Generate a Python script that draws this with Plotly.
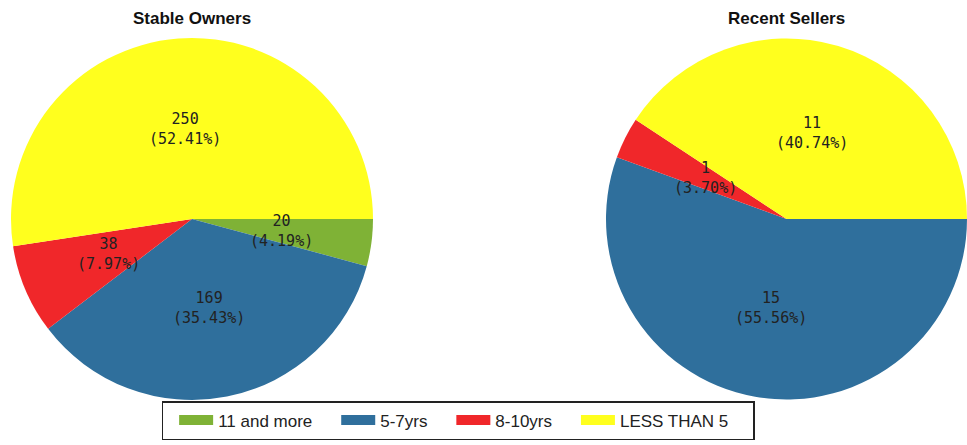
import math
import plotly.graph_objects as go

categories = ["11 and more", "5-7yrs", "8-10yrs", "LESS THAN 5"]
stable_owners = [20, 169, 38, 250]
recent_sellers = [0, 15, 1, 11]
titles = ["Stable Owners", "Recent Sellers"]
colors = ["#7fb236", "#2f6f9c", "#f0272a", "#ffff1e"]

W, H = 967, 445
domains = [
    dict(x=[11 / W, 373 / W], y=[1 - 400 / H, 1 - 38 / H]),
    dict(x=[606 / W, 1.0], y=[1 - 400 / H, 1 - 38 / H]),
]

fig = go.Figure()
annotations = []
for i, (vals, title, dom) in enumerate(zip([stable_owners, recent_sellers], titles, domains)):
    fig.add_trace(go.Pie(
        labels=categories, values=vals, domain=dom,
        marker=dict(colors=colors, line=dict(width=0)),
        sort=False, direction="clockwise", rotation=90,
        textinfo="none", hoverinfo="label+value+percent",
        showlegend=False,
    ))
    total = sum(vals)
    wpx = (dom["x"][1] - dom["x"][0]) * W
    hpx = (dom["y"][1] - dom["y"][0]) * H
    r = min(wpx, hpx) / 2
    cx = (dom["x"][0] + dom["x"][1]) / 2
    cy = (dom["y"][0] + dom["y"][1]) / 2
    cum = 0
    for v in vals:
        if v == 0:
            continue
        mid = (cum + v / 2) / total
        cum += v
        th = -mid * 2 * math.pi
        x = cx + 0.5 * r * math.cos(th) / W
        y = cy + 0.5 * r * math.sin(th) / H
        annotations.append(dict(
            x=x, y=y, xref="paper", yref="paper", showarrow=False,
            xanchor="center", yanchor="middle",
            text=f"{v}<br>({v / total * 100:.2f}%)",
            font=dict(family="DejaVu Sans Mono", size=15, color="#222"),
            align="center",
        ))
    annotations.append(dict(
        x=cx, y=1 - 18 / H, xref="paper", yref="paper", showarrow=False,
        xanchor="center", yanchor="middle",
        text=f"<b>{title}</b>",
        font=dict(family="Liberation Sans", size=17, color="#111"),
    ))

# legend entries (wide colour swatches like the original legend)
pad = "\u00a0" * 4
for j, (cat, col) in enumerate(zip(categories, colors)):
    fig.add_trace(go.Scatter(
        x=[None], y=[None], mode="lines", name=cat + pad,
        line=dict(color=col, width=11), showlegend=True, hoverinfo="skip",
    ))

fig.update_layout(
    width=W, height=H,
    margin=dict(l=0, r=0, t=0, b=0),
    paper_bgcolor="white", plot_bgcolor="white",
    xaxis=dict(visible=False), yaxis=dict(visible=False),
    annotations=annotations,
    legend=dict(
        orientation="h", x=458 / W, xanchor="center",
        y=1 - 401 / H, yanchor="top",
        bordercolor="#222", borderwidth=1.5,
        font=dict(family="Liberation Sans", size=17, color="#222"),
        traceorder="normal", itemwidth=34,
        title=dict(text="\u00a0", side="left", font=dict(size=4)),
    ),
)

fig.write_html("out.html", config={"displayModeBar": False},
               post_script="document.body.style.margin='0';")
